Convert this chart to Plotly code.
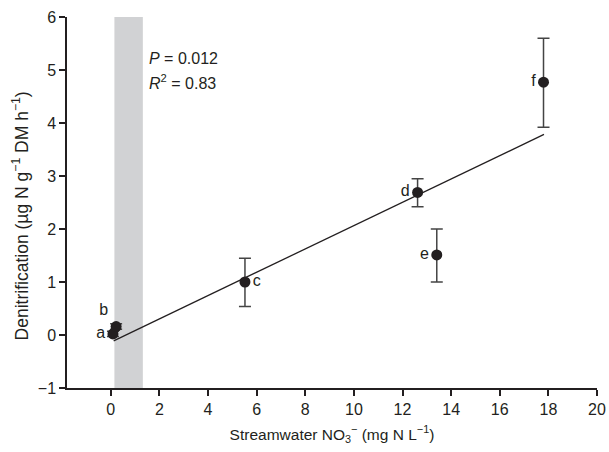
import plotly.graph_objects as go

# Data
labels = ["a", "b", "c", "d", "e", "f"]
nitrate = [0.09, 0.22, 5.52, 12.62, 13.41, 17.8]
denit = [0.02, 0.16, 1.0, 2.69, 1.51, 4.77]
err_plus = [0.05, 0.05, 0.45, 0.26, 0.49, 0.83]
err_minus = [0.05, 0.05, 0.46, 0.27, 0.51, 0.85]

fit_slope = 0.220
fit_intercept = -0.136
fit_x = [0.12, 17.82]

band_x = [0.15, 1.32]

x_ticks = list(range(0, 21, 2))
y_ticks = list(range(-1, 7))

label_pos = ["middle left", "top left", "middle right", "middle left", "middle left", "middle left"]

FONT = "Liberation Sans, Arial, Helvetica, sans-serif"
INK = "#231f20"

fig = go.Figure()

fig.add_shape(type="rect", x0=band_x[0], x1=band_x[1], y0=-1, y1=6,
              fillcolor="#d1d2d4", line_width=0, layer="below")

fig.add_trace(go.Scatter(
    x=fit_x, y=[fit_slope * v + fit_intercept for v in fit_x],
    mode="lines", line=dict(color=INK, width=1.3), showlegend=False,
    hoverinfo="skip"))

fig.add_trace(go.Scatter(
    x=nitrate, y=denit, mode="markers+text",
    text=labels, textposition=label_pos,
    textfont=dict(family=FONT, size=16, color=INK),
    marker=dict(size=11, color=INK),
    error_y=dict(type="data", array=err_plus, arrayminus=err_minus,
                 color="#444444", thickness=1.5, width=6),
    showlegend=False))

fig.add_annotation(x=1.5, y=5.22, xref="x", yref="y",
                   text="<i>P</i> = 0.012", showarrow=False, xanchor="left",
                   font=dict(family=FONT, size=16, color=INK))
fig.add_annotation(x=1.5, y=4.78, xref="x", yref="y",
                   text="<i>R</i><sup>2</sup> = 0.83", showarrow=False, xanchor="left",
                   font=dict(family=FONT, size=16, color=INK))

# y-axis title (placed as annotation to match its off-centre position)
fig.add_annotation(x=-0.087, y=0.465, xref="paper", yref="paper",
                   text="Denitrification (µg N g<sup>−1</sup> DM h<sup>−1</sup>)",
                   textangle=-90, showarrow=False, xanchor="center", yanchor="middle",
                   font=dict(family=FONT, size=17.5, color=INK))

fig.update_layout(
    width=609, height=452,
    margin=dict(l=67, r=12, t=17, b=64),
    paper_bgcolor="white", plot_bgcolor="white",
    font=dict(family=FONT, size=16, color=INK),
    xaxis=dict(range=[-1.8, 20.0], tickvals=x_ticks, showline=True,
               linecolor=INK, linewidth=1.5, ticks="outside", ticklen=6,
               tickwidth=1.5, tickcolor=INK, showgrid=False, zeroline=False,
               automargin=False, ticklabeloverflow="allow",
               title=dict(text="Streamwater NO<sub>3</sub><sup>−</sup> (mg N L<sup>−1</sup>)",
                          font=dict(size=15.5), standoff=12),
               tickfont=dict(size=16)),
    yaxis=dict(range=[-1, 6], tickvals=y_ticks,
               ticktext=[("−1" if v == -1 else str(v)) for v in y_ticks],
               showline=True, linecolor=INK, linewidth=1.5, ticks="outside",
               ticklen=6, tickwidth=1.5, tickcolor=INK, showgrid=False,
               zeroline=False, automargin=False,
               tickfont=dict(size=16)),
)

# remove the default page margin so the figure fills the window exactly
fig.write_html("out.html",
               config={"displayModeBar": False},
               post_script="document.body.style.margin='0';document.body.style.overflow='hidden';")
